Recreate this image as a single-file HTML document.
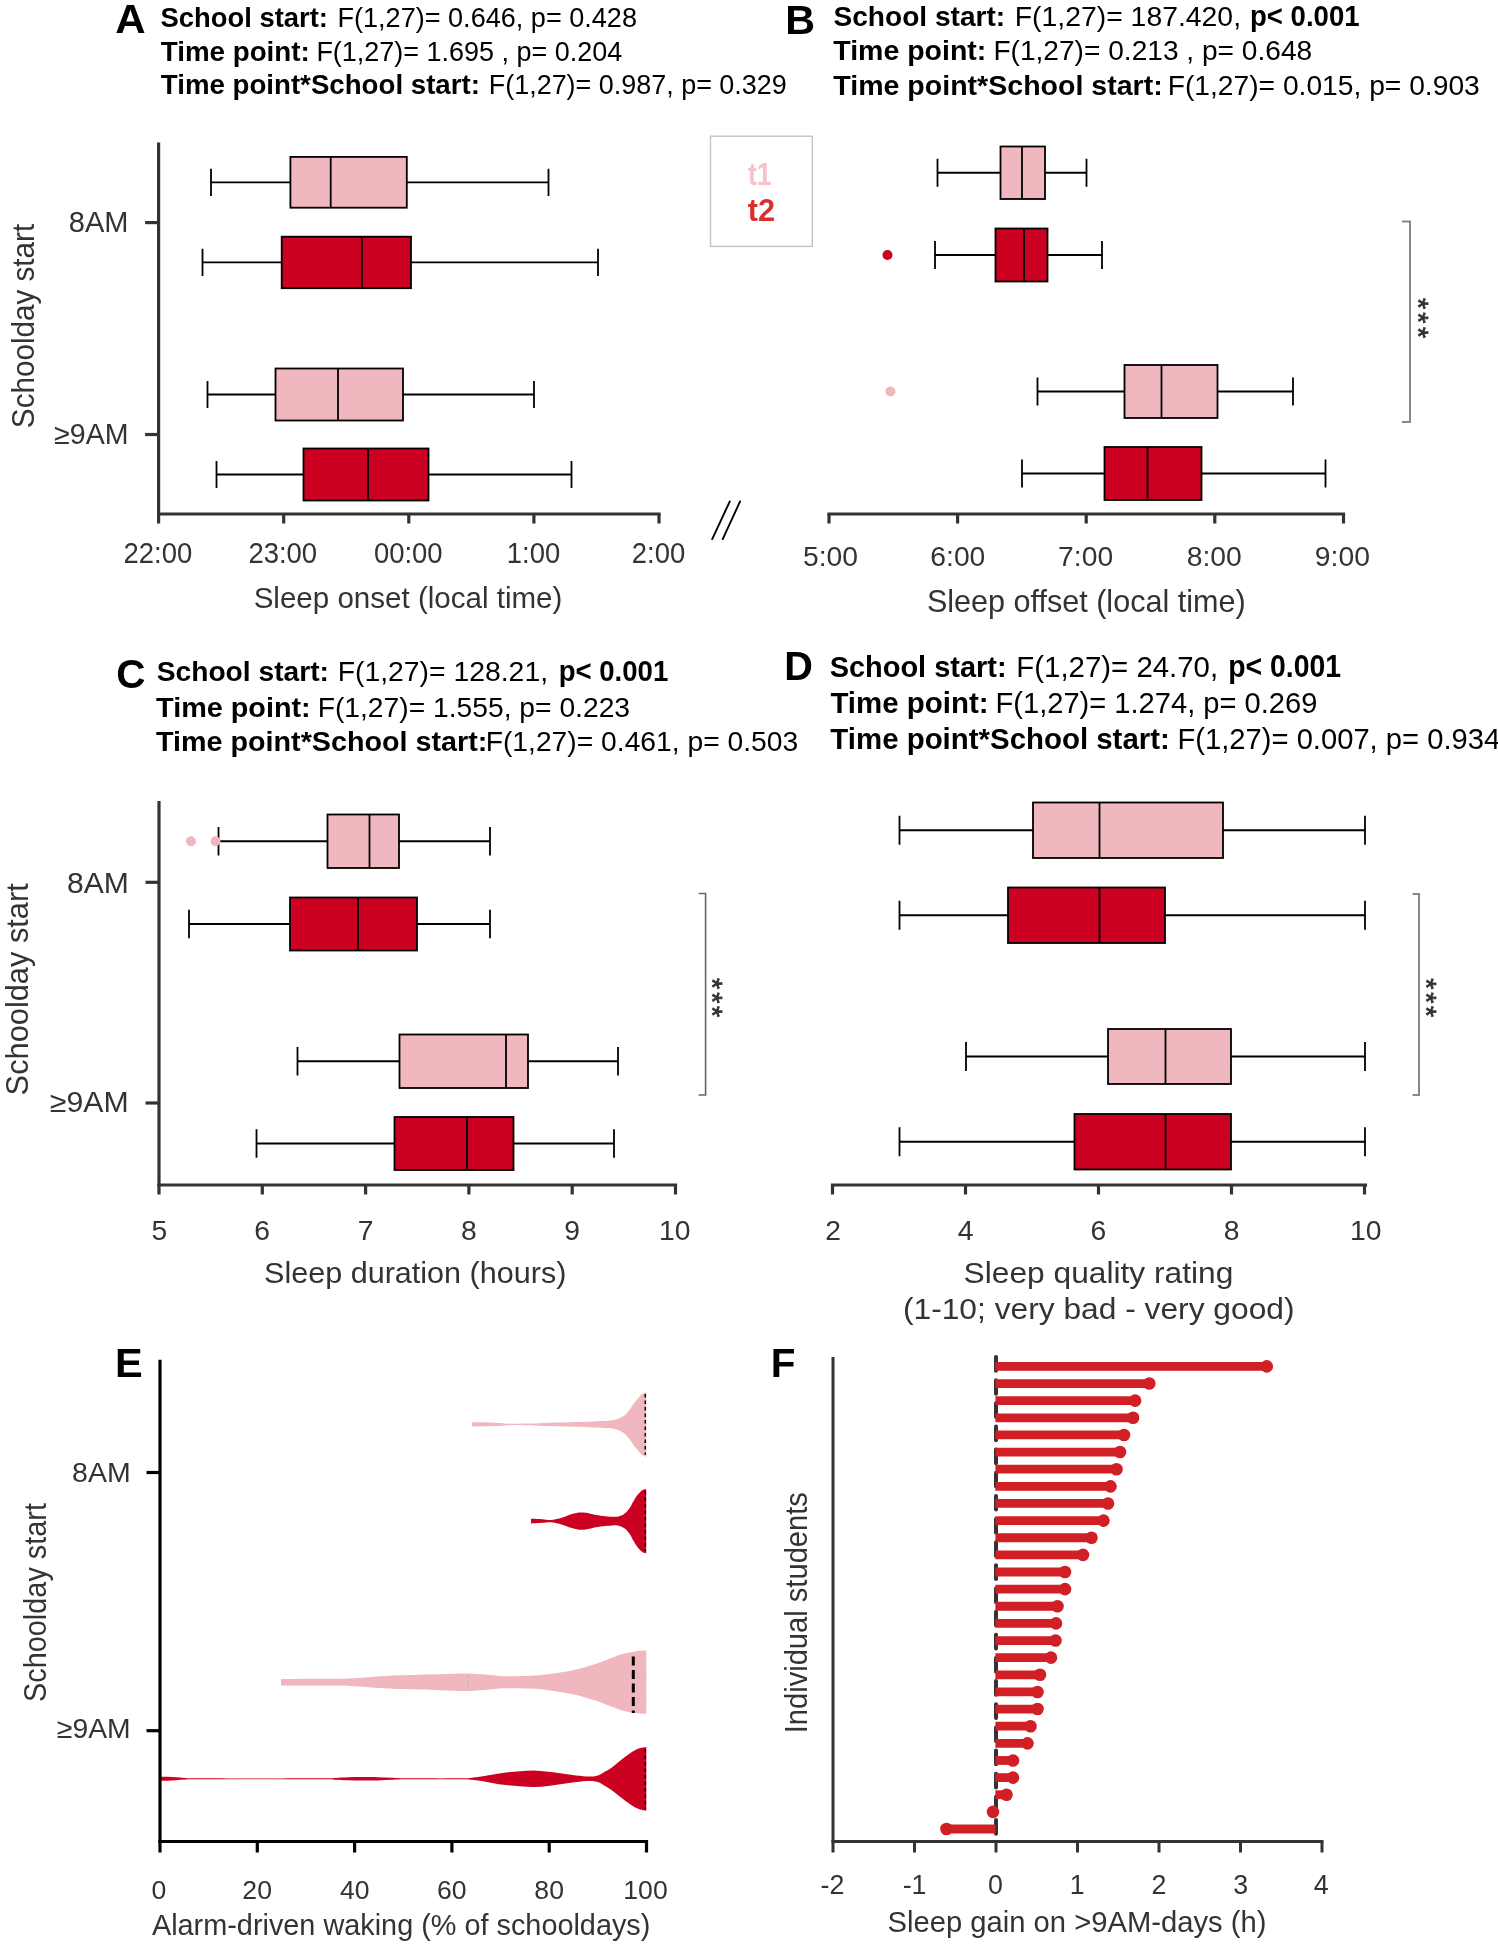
<!DOCTYPE html><html><head><meta charset="utf-8"><style>
html,body{margin:0;padding:0;background:#fff;}
svg{display:block;}
text{font-family:"Liberation Sans", sans-serif;}
.bx{stroke:#000;stroke-width:1.8;}
</style></head><body>
<svg style="will-change:transform" width="1498" height="1945" viewBox="0 0 1498 1945">
<text x="115.25" y="33.40" font-size="41" font-weight="bold" fill="#000" textLength="30.35" lengthAdjust="spacingAndGlyphs" xml:space="preserve">A</text>
<text x="160.51" y="26.50" font-size="27.5" font-weight="bold" fill="#000" textLength="167.42" lengthAdjust="spacingAndGlyphs" xml:space="preserve">School start:</text>
<text x="337.48" y="26.50" font-size="27.5" font-weight="normal" fill="#000" textLength="299.50" lengthAdjust="spacingAndGlyphs" xml:space="preserve">F(1,27)= 0.646, p= 0.428</text>
<text x="160.79" y="60.50" font-size="27.5" font-weight="bold" fill="#000" textLength="148.97" lengthAdjust="spacingAndGlyphs" xml:space="preserve">Time point:</text>
<text x="316.39" y="60.50" font-size="27.5" font-weight="normal" fill="#000" textLength="305.90" lengthAdjust="spacingAndGlyphs" xml:space="preserve">F(1,27)= 1.695 , p= 0.204</text>
<text x="160.80" y="94.00" font-size="27.5" font-weight="bold" fill="#000" textLength="319.16" lengthAdjust="spacingAndGlyphs" xml:space="preserve">Time point*School start:</text>
<text x="488.79" y="94.00" font-size="27.5" font-weight="normal" fill="#000" textLength="297.99" lengthAdjust="spacingAndGlyphs" xml:space="preserve">F(1,27)= 0.987, p= 0.329</text>
<line x1="158.6" y1="142.5" x2="158.6" y2="515.5" stroke="#333333" stroke-width="3.2"/>
<line x1="145.1" y1="222.6" x2="158.6" y2="222.6" stroke="#333333" stroke-width="3.2"/>
<line x1="145.1" y1="434.5" x2="158.6" y2="434.5" stroke="#333333" stroke-width="3.2"/>
<line x1="157.0" y1="514" x2="660.6" y2="514" stroke="#333333" stroke-width="3.2"/>
<line x1="158.6" y1="514" x2="158.6" y2="523.5" stroke="#333333" stroke-width="3.2"/>
<line x1="283.7" y1="514" x2="283.7" y2="523.5" stroke="#333333" stroke-width="3.2"/>
<line x1="408.8" y1="514" x2="408.8" y2="523.5" stroke="#333333" stroke-width="3.2"/>
<line x1="533.9" y1="514" x2="533.9" y2="523.5" stroke="#333333" stroke-width="3.2"/>
<line x1="659" y1="514" x2="659" y2="523.5" stroke="#333333" stroke-width="3.2"/>
<text x="68.75" y="231.80" font-size="28.6" font-weight="normal" fill="#333333" textLength="59.74" lengthAdjust="spacingAndGlyphs" xml:space="preserve">8AM</text>
<text x="54.09" y="443.50" font-size="28.6" font-weight="normal" fill="#333333" textLength="74.46" lengthAdjust="spacingAndGlyphs" xml:space="preserve">≥9AM</text>
<text x="123.53" y="563.00" font-size="29" font-weight="normal" fill="#333333" textLength="68.65" lengthAdjust="spacingAndGlyphs" xml:space="preserve">22:00</text>
<text x="248.43" y="563.00" font-size="29" font-weight="normal" fill="#333333" textLength="68.65" lengthAdjust="spacingAndGlyphs" xml:space="preserve">23:00</text>
<text x="373.88" y="563.00" font-size="29" font-weight="normal" fill="#333333" textLength="68.65" lengthAdjust="spacingAndGlyphs" xml:space="preserve">00:00</text>
<text x="506.80" y="563.00" font-size="29" font-weight="normal" fill="#333333" textLength="53.39" lengthAdjust="spacingAndGlyphs" xml:space="preserve">1:00</text>
<text x="631.86" y="563.00" font-size="29" font-weight="normal" fill="#333333" textLength="53.39" lengthAdjust="spacingAndGlyphs" xml:space="preserve">2:00</text>
<text x="253.67" y="607.50" font-size="29.1" font-weight="normal" fill="#333333" textLength="308.67" lengthAdjust="spacingAndGlyphs" xml:space="preserve">Sleep onset (local time)</text>
<text transform="translate(34.00,428.13) rotate(-90)" x="0" y="0" font-size="30.5" fill="#333333" textLength="204.33" lengthAdjust="spacingAndGlyphs">Schoolday start</text>
<path d="M211,182.3 H290.4 M406.8,182.3 H548.5 M211,168.70000000000002 V195.9 M548.5,168.70000000000002 V195.9" class="bx" fill="none"/>
<rect x="290.4" y="156.9" width="116.40" height="50.80" fill="#f0b7be" class="bx"/>
<line x1="330.7" y1="156.9" x2="330.7" y2="207.7" class="bx"/>
<path d="M202.5,262.45 H281.7 M411,262.45 H598 M202.5,248.85 V276.05 M598,248.85 V276.05" class="bx" fill="none"/>
<rect x="281.7" y="236.7" width="129.30" height="51.50" fill="#cc0020" class="bx"/>
<line x1="361.8" y1="236.7" x2="361.8" y2="288.2" class="bx"/>
<path d="M207.5,394.5 H275.5 M403,394.5 H534 M207.5,380.9 V408.1 M534,380.9 V408.1" class="bx" fill="none"/>
<rect x="275.5" y="368.5" width="127.50" height="52.00" fill="#f0b7be" class="bx"/>
<line x1="338" y1="368.5" x2="338" y2="420.5" class="bx"/>
<path d="M216.5,474.5 H303.5 M428.5,474.5 H571.5 M216.5,460.9 V488.1 M571.5,460.9 V488.1" class="bx" fill="none"/>
<rect x="303.5" y="448.5" width="125.00" height="52.00" fill="#cc0020" class="bx"/>
<line x1="368" y1="448.5" x2="368" y2="500.5" class="bx"/>
<rect x="710.5" y="136.2" width="101.8" height="110.2" fill="none" stroke="#c4c4c4" stroke-width="1.4"/>
<text x="747.88" y="184.90" font-size="31.4" font-weight="bold" fill="#f5c4ca" textLength="23.77" lengthAdjust="spacingAndGlyphs" xml:space="preserve">t1</text>
<text x="747.83" y="220.90" font-size="31.4" font-weight="bold" fill="#d93030" textLength="27.30" lengthAdjust="spacingAndGlyphs" xml:space="preserve">t2</text>
<path d="M712.2,539.1 L729.8,501.4 M722.7,539.1 L740.1,501.4" stroke="#000" stroke-width="1.9" stroke-linecap="round"/>
<text x="785.33" y="33.90" font-size="41" font-weight="bold" fill="#000" textLength="29.83" lengthAdjust="spacingAndGlyphs" xml:space="preserve">B</text>
<text x="833.49" y="26.30" font-size="28.3" font-weight="bold" fill="#000" textLength="171.71" lengthAdjust="spacingAndGlyphs" xml:space="preserve">School start:</text>
<text x="1014.77" y="26.30" font-size="28.3" font-weight="normal" fill="#000" textLength="226.27" lengthAdjust="spacingAndGlyphs" xml:space="preserve">F(1,27)= 187.420,</text>
<text x="1249.98" y="26.30" font-size="29.4" font-weight="bold" fill="#000" textLength="109.59" lengthAdjust="spacingAndGlyphs" xml:space="preserve">p&lt; 0.001</text>
<text x="833.29" y="60.00" font-size="28.3" font-weight="bold" fill="#000" textLength="153.05" lengthAdjust="spacingAndGlyphs" xml:space="preserve">Time point:</text>
<text x="993.39" y="60.00" font-size="28.3" font-weight="normal" fill="#000" textLength="318.82" lengthAdjust="spacingAndGlyphs" xml:space="preserve">F(1,27)= 0.213 , p= 0.648</text>
<text x="833.29" y="94.60" font-size="28.3" font-weight="bold" fill="#000" textLength="329.46" lengthAdjust="spacingAndGlyphs" xml:space="preserve">Time point*School start:</text>
<text x="1167.69" y="94.60" font-size="28.3" font-weight="normal" fill="#000" textLength="312.07" lengthAdjust="spacingAndGlyphs" xml:space="preserve">F(1,27)= 0.015, p= 0.903</text>
<line x1="827.4" y1="514" x2="1345.1" y2="514" stroke="#333333" stroke-width="3.2"/>
<line x1="829" y1="514" x2="829" y2="523.5" stroke="#333333" stroke-width="3.2"/>
<line x1="957.6" y1="514" x2="957.6" y2="523.5" stroke="#333333" stroke-width="3.2"/>
<line x1="1086.2" y1="514" x2="1086.2" y2="523.5" stroke="#333333" stroke-width="3.2"/>
<line x1="1214.8" y1="514" x2="1214.8" y2="523.5" stroke="#333333" stroke-width="3.2"/>
<line x1="1343.5" y1="514" x2="1343.5" y2="523.5" stroke="#333333" stroke-width="3.2"/>
<text x="802.95" y="565.70" font-size="28.3" font-weight="normal" fill="#333333" textLength="55.08" lengthAdjust="spacingAndGlyphs" xml:space="preserve">5:00</text>
<text x="930.29" y="565.70" font-size="28.3" font-weight="normal" fill="#333333" textLength="55.08" lengthAdjust="spacingAndGlyphs" xml:space="preserve">6:00</text>
<text x="1058.09" y="565.70" font-size="28.3" font-weight="normal" fill="#333333" textLength="55.08" lengthAdjust="spacingAndGlyphs" xml:space="preserve">7:00</text>
<text x="1186.71" y="565.70" font-size="28.3" font-weight="normal" fill="#333333" textLength="55.08" lengthAdjust="spacingAndGlyphs" xml:space="preserve">8:00</text>
<text x="1314.85" y="565.70" font-size="28.3" font-weight="normal" fill="#333333" textLength="55.08" lengthAdjust="spacingAndGlyphs" xml:space="preserve">9:00</text>
<text x="926.93" y="611.90" font-size="31.3" font-weight="normal" fill="#333333" textLength="318.66" lengthAdjust="spacingAndGlyphs" xml:space="preserve">Sleep offset (local time)</text>
<path d="M937.5,172.75 H1000.5 M1045,172.75 H1086.5 M937.5,158.75 V186.75 M1086.5,158.75 V186.75" class="bx" fill="none"/>
<rect x="1000.5" y="146.5" width="44.50" height="52.50" fill="#f0b7be" class="bx"/>
<line x1="1022" y1="146.5" x2="1022" y2="199" class="bx"/>
<path d="M935,255.0 H995.5 M1047.5,255.0 H1102 M935,241.0 V269.0 M1102,241.0 V269.0" class="bx" fill="none"/>
<rect x="995.5" y="228.5" width="52.00" height="53.00" fill="#cc0020" class="bx"/>
<line x1="1024" y1="228.5" x2="1024" y2="281.5" class="bx"/>
<path d="M1037.5,391.5 H1124.5 M1217.5,391.5 H1293 M1037.5,377.5 V405.5 M1293,377.5 V405.5" class="bx" fill="none"/>
<rect x="1124.5" y="365" width="93.00" height="53.00" fill="#f0b7be" class="bx"/>
<line x1="1161.5" y1="365" x2="1161.5" y2="418" class="bx"/>
<path d="M1022,473.5 H1104.5 M1201.5,473.5 H1325.5 M1022,459.5 V487.5 M1325.5,459.5 V487.5" class="bx" fill="none"/>
<rect x="1104.5" y="447" width="97.00" height="53.00" fill="#cc0020" class="bx"/>
<line x1="1147.5" y1="447" x2="1147.5" y2="500" class="bx"/>
<circle cx="887.5" cy="255" r="5" fill="#cc0020"/>
<circle cx="890.5" cy="391.5" r="5" fill="#f0b7be"/>
<path d="M1402,221.6 H1410 V422 H1402" fill="none" stroke="#888" stroke-width="2"/>
<text transform="translate(1424,303.5) rotate(90)" x="-5.54" y="14.61" font-size="28.5" fill="#333" stroke="#333" stroke-width="0.75">*</text>
<text transform="translate(1424,317.7) rotate(90)" x="-5.54" y="14.61" font-size="28.5" fill="#333" stroke="#333" stroke-width="0.75">*</text>
<text transform="translate(1424,332.5) rotate(90)" x="-5.54" y="14.61" font-size="28.5" fill="#333" stroke="#333" stroke-width="0.75">*</text>
<text x="116.34" y="687.50" font-size="41" font-weight="bold" fill="#000" textLength="29.26" lengthAdjust="spacingAndGlyphs" xml:space="preserve">C</text>
<text x="156.68" y="681.30" font-size="28.3" font-weight="bold" fill="#000" textLength="172.32" lengthAdjust="spacingAndGlyphs" xml:space="preserve">School start:</text>
<text x="337.68" y="681.30" font-size="28.3" font-weight="normal" fill="#000" textLength="210.36" lengthAdjust="spacingAndGlyphs" xml:space="preserve">F(1,27)= 128.21,</text>
<text x="558.68" y="681.40" font-size="30" font-weight="bold" fill="#000" textLength="109.59" lengthAdjust="spacingAndGlyphs" xml:space="preserve">p&lt; 0.001</text>
<text x="156.08" y="717.10" font-size="28.3" font-weight="bold" fill="#000" textLength="154.58" lengthAdjust="spacingAndGlyphs" xml:space="preserve">Time point:</text>
<text x="317.68" y="717.10" font-size="28.3" font-weight="normal" fill="#000" textLength="312.37" lengthAdjust="spacingAndGlyphs" xml:space="preserve">F(1,27)= 1.555, p= 0.223</text>
<text x="156.08" y="751.40" font-size="28.3" font-weight="bold" fill="#000" textLength="331.18" lengthAdjust="spacingAndGlyphs" xml:space="preserve">Time point*School start:</text>
<text x="485.68" y="751.40" font-size="28.3" font-weight="normal" fill="#000" textLength="312.57" lengthAdjust="spacingAndGlyphs" xml:space="preserve">F(1,27)= 0.461, p= 0.503</text>
<line x1="159" y1="801" x2="159" y2="1186" stroke="#333333" stroke-width="3.2"/>
<line x1="145.5" y1="882.3" x2="159" y2="882.3" stroke="#333333" stroke-width="3.2"/>
<line x1="145.5" y1="1103" x2="159" y2="1103" stroke="#333333" stroke-width="3.2"/>
<line x1="157.4" y1="1185" x2="677.1" y2="1185" stroke="#333333" stroke-width="3.2"/>
<line x1="159" y1="1185" x2="159" y2="1194.5" stroke="#333333" stroke-width="3.2"/>
<line x1="262.3" y1="1185" x2="262.3" y2="1194.5" stroke="#333333" stroke-width="3.2"/>
<line x1="365.6" y1="1185" x2="365.6" y2="1194.5" stroke="#333333" stroke-width="3.2"/>
<line x1="468.9" y1="1185" x2="468.9" y2="1194.5" stroke="#333333" stroke-width="3.2"/>
<line x1="572.2" y1="1185" x2="572.2" y2="1194.5" stroke="#333333" stroke-width="3.2"/>
<line x1="675.5" y1="1185" x2="675.5" y2="1194.5" stroke="#333333" stroke-width="3.2"/>
<text x="66.91" y="892.80" font-size="28.6" font-weight="normal" fill="#333333" textLength="61.87" lengthAdjust="spacingAndGlyphs" xml:space="preserve">8AM</text>
<text x="49.83" y="1112.00" font-size="28.6" font-weight="normal" fill="#333333" textLength="78.96" lengthAdjust="spacingAndGlyphs" xml:space="preserve">≥9AM</text>
<text x="151.56" y="1240.20" font-size="28.3" font-weight="normal" fill="#333333" textLength="15.74" lengthAdjust="spacingAndGlyphs" xml:space="preserve">5</text>
<text x="254.33" y="1240.20" font-size="28.3" font-weight="normal" fill="#333333" textLength="15.74" lengthAdjust="spacingAndGlyphs" xml:space="preserve">6</text>
<text x="357.72" y="1240.20" font-size="28.3" font-weight="normal" fill="#333333" textLength="15.74" lengthAdjust="spacingAndGlyphs" xml:space="preserve">7</text>
<text x="461.03" y="1240.20" font-size="28.3" font-weight="normal" fill="#333333" textLength="15.74" lengthAdjust="spacingAndGlyphs" xml:space="preserve">8</text>
<text x="564.33" y="1240.20" font-size="28.3" font-weight="normal" fill="#333333" textLength="15.74" lengthAdjust="spacingAndGlyphs" xml:space="preserve">9</text>
<text x="659.04" y="1240.20" font-size="28.3" font-weight="normal" fill="#333333" textLength="31.48" lengthAdjust="spacingAndGlyphs" xml:space="preserve">10</text>
<text x="264.02" y="1283.10" font-size="30.4" font-weight="normal" fill="#333333" textLength="302.36" lengthAdjust="spacingAndGlyphs" xml:space="preserve">Sleep duration (hours)</text>
<text transform="translate(27.80,1095.39) rotate(-90)" x="0" y="0" font-size="31" fill="#333333" textLength="212.19" lengthAdjust="spacingAndGlyphs">Schoolday start</text>
<path d="M218.5,841.25 H327.5 M399,841.25 H490 M218.5,827.05 V855.45 M490,827.05 V855.45" class="bx" fill="none"/>
<rect x="327.5" y="814.5" width="71.50" height="53.50" fill="#f0b7be" class="bx"/>
<line x1="369.5" y1="814.5" x2="369.5" y2="868" class="bx"/>
<path d="M189,924.0 H290 M417,924.0 H490 M189,909.8 V938.2 M490,909.8 V938.2" class="bx" fill="none"/>
<rect x="290" y="897.5" width="127.00" height="53.00" fill="#cc0020" class="bx"/>
<line x1="358" y1="897.5" x2="358" y2="950.5" class="bx"/>
<path d="M297.5,1061.25 H399.5 M528,1061.25 H618 M297.5,1047.05 V1075.45 M618,1047.05 V1075.45" class="bx" fill="none"/>
<rect x="399.5" y="1034.5" width="128.50" height="53.50" fill="#f0b7be" class="bx"/>
<line x1="506" y1="1034.5" x2="506" y2="1088" class="bx"/>
<path d="M256.5,1143.5 H394.5 M513.5,1143.5 H614 M256.5,1129.3 V1157.7 M614,1129.3 V1157.7" class="bx" fill="none"/>
<rect x="394.5" y="1117" width="119.00" height="53.00" fill="#cc0020" class="bx"/>
<line x1="467" y1="1117" x2="467" y2="1170" class="bx"/>
<circle cx="191" cy="841.3" r="5" fill="#f0b7be"/>
<circle cx="215.5" cy="841.3" r="5" fill="#f0b7be"/>
<path d="M698.6,893.5 H705.6 V1095 H698.6" fill="none" stroke="#666" stroke-width="1.6"/>
<text transform="translate(718,983.5) rotate(90)" x="-5.54" y="14.61" font-size="28.5" fill="#333" stroke="#333" stroke-width="0.75">*</text>
<text transform="translate(718,997.7) rotate(90)" x="-5.54" y="14.61" font-size="28.5" fill="#333" stroke="#333" stroke-width="0.75">*</text>
<text transform="translate(718,1011.5) rotate(90)" x="-5.54" y="14.61" font-size="28.5" fill="#333" stroke="#333" stroke-width="0.75">*</text>
<text x="784.34" y="680.00" font-size="41" font-weight="bold" fill="#000" textLength="28.63" lengthAdjust="spacingAndGlyphs" xml:space="preserve">D</text>
<text x="829.66" y="677.00" font-size="29.2" font-weight="bold" fill="#000" textLength="176.91" lengthAdjust="spacingAndGlyphs" xml:space="preserve">School start:</text>
<text x="1016.39" y="677.00" font-size="29.2" font-weight="normal" fill="#000" textLength="201.76" lengthAdjust="spacingAndGlyphs" xml:space="preserve">F(1,27)= 24.70,</text>
<text x="1228.23" y="677.00" font-size="31.2" font-weight="bold" fill="#000" textLength="112.87" lengthAdjust="spacingAndGlyphs" xml:space="preserve">p&lt; 0.001</text>
<text x="830.38" y="712.90" font-size="29.2" font-weight="bold" fill="#000" textLength="158.16" lengthAdjust="spacingAndGlyphs" xml:space="preserve">Time point:</text>
<text x="995.51" y="712.90" font-size="29.2" font-weight="normal" fill="#000" textLength="321.87" lengthAdjust="spacingAndGlyphs" xml:space="preserve">F(1,27)= 1.274, p= 0.269</text>
<text x="830.38" y="748.80" font-size="29.2" font-weight="bold" fill="#000" textLength="339.45" lengthAdjust="spacingAndGlyphs" xml:space="preserve">Time point*School start:</text>
<text x="1177.51" y="748.80" font-size="29.2" font-weight="normal" fill="#000" textLength="322.65" lengthAdjust="spacingAndGlyphs" xml:space="preserve">F(1,27)= 0.007, p= 0.934</text>
<line x1="830.9" y1="1185" x2="1367.1" y2="1185" stroke="#333333" stroke-width="3.2"/>
<line x1="832.5" y1="1185" x2="832.5" y2="1194.5" stroke="#333333" stroke-width="3.2"/>
<line x1="965.5" y1="1185" x2="965.5" y2="1194.5" stroke="#333333" stroke-width="3.2"/>
<line x1="1098.5" y1="1185" x2="1098.5" y2="1194.5" stroke="#333333" stroke-width="3.2"/>
<line x1="1231.5" y1="1185" x2="1231.5" y2="1194.5" stroke="#333333" stroke-width="3.2"/>
<line x1="1364.5" y1="1185" x2="1364.5" y2="1194.5" stroke="#333333" stroke-width="3.2"/>
<text x="825.13" y="1240.20" font-size="28.3" font-weight="normal" fill="#333333" textLength="15.74" lengthAdjust="spacingAndGlyphs" xml:space="preserve">2</text>
<text x="957.72" y="1240.20" font-size="28.3" font-weight="normal" fill="#333333" textLength="15.74" lengthAdjust="spacingAndGlyphs" xml:space="preserve">4</text>
<text x="1090.53" y="1240.20" font-size="28.3" font-weight="normal" fill="#333333" textLength="15.74" lengthAdjust="spacingAndGlyphs" xml:space="preserve">6</text>
<text x="1223.63" y="1240.20" font-size="28.3" font-weight="normal" fill="#333333" textLength="15.74" lengthAdjust="spacingAndGlyphs" xml:space="preserve">8</text>
<text x="1350.04" y="1240.20" font-size="28.3" font-weight="normal" fill="#333333" textLength="31.48" lengthAdjust="spacingAndGlyphs" xml:space="preserve">10</text>
<text x="963.57" y="1283.00" font-size="30.4" font-weight="normal" fill="#333333" textLength="269.77" lengthAdjust="spacingAndGlyphs" xml:space="preserve">Sleep quality rating</text>
<text x="902.93" y="1319.10" font-size="30.4" font-weight="normal" fill="#333333" textLength="391.63" lengthAdjust="spacingAndGlyphs" xml:space="preserve">(1-10; very bad - very good)</text>
<path d="M899.5,830.25 H1033 M1223,830.25 H1365 M899.5,815.75 V844.75 M1365,815.75 V844.75" class="bx" fill="none"/>
<rect x="1033" y="802.5" width="190.00" height="55.50" fill="#f0b7be" class="bx"/>
<line x1="1099.5" y1="802.5" x2="1099.5" y2="858" class="bx"/>
<path d="M899.5,915.25 H1008 M1165,915.25 H1365 M899.5,900.75 V929.75 M1365,900.75 V929.75" class="bx" fill="none"/>
<rect x="1008" y="887.5" width="157.00" height="55.50" fill="#cc0020" class="bx"/>
<line x1="1099.5" y1="887.5" x2="1099.5" y2="943" class="bx"/>
<path d="M966,1056.5 H1108 M1231,1056.5 H1365 M966,1042.0 V1071.0 M1365,1042.0 V1071.0" class="bx" fill="none"/>
<rect x="1108" y="1029" width="123.00" height="55.00" fill="#f0b7be" class="bx"/>
<line x1="1165.5" y1="1029" x2="1165.5" y2="1084" class="bx"/>
<path d="M899.5,1141.75 H1074.5 M1231,1141.75 H1365 M899.5,1127.25 V1156.25 M1365,1127.25 V1156.25" class="bx" fill="none"/>
<rect x="1074.5" y="1114" width="156.50" height="55.50" fill="#cc0020" class="bx"/>
<line x1="1165.5" y1="1114" x2="1165.5" y2="1169.5" class="bx"/>
<path d="M1412.5,894 H1419 V1095 H1412.5" fill="none" stroke="#888" stroke-width="2"/>
<text transform="translate(1431.7,983.7) rotate(90)" x="-5.54" y="14.61" font-size="28.5" fill="#333" stroke="#333" stroke-width="0.75">*</text>
<text transform="translate(1431.7,997.8) rotate(90)" x="-5.54" y="14.61" font-size="28.5" fill="#333" stroke="#333" stroke-width="0.75">*</text>
<text transform="translate(1431.7,1011.5) rotate(90)" x="-5.54" y="14.61" font-size="28.5" fill="#333" stroke="#333" stroke-width="0.75">*</text>
<text x="115.02" y="1376.90" font-size="41" font-weight="bold" fill="#000" textLength="27.70" lengthAdjust="spacingAndGlyphs" xml:space="preserve">E</text>
<path d="M472.00,1422.40 C473.33,1422.38 476.17,1422.25 480.00,1422.30 C483.83,1422.35 490.83,1422.52 495.00,1422.70 C499.17,1422.88 502.00,1423.22 505.00,1423.40 C508.00,1423.58 509.67,1423.77 513.00,1423.80 C516.33,1423.83 519.67,1423.75 525.00,1423.60 C530.33,1423.45 537.50,1423.13 545.00,1422.90 C552.50,1422.67 562.00,1422.45 570.00,1422.20 C578.00,1421.95 586.67,1421.63 593.00,1421.40 C599.33,1421.17 604.33,1421.07 608.00,1420.80 C611.67,1420.53 613.00,1420.28 615.00,1419.80 C617.00,1419.32 618.33,1418.72 620.00,1417.90 C621.67,1417.08 623.50,1416.15 625.00,1414.90 C626.50,1413.65 627.57,1412.23 629.00,1410.40 C630.43,1408.57 632.27,1405.73 633.60,1403.90 C634.93,1402.07 635.93,1400.73 637.00,1399.40 C638.07,1398.07 639.00,1396.90 640.00,1395.90 C641.00,1394.90 641.97,1394.05 643.00,1393.40 C644.03,1392.75 645.67,1392.23 646.20,1392.00 L646.20,1456.80 C645.67,1456.57 644.03,1456.05 643.00,1455.40 C641.97,1454.75 641.00,1453.90 640.00,1452.90 C639.00,1451.90 638.07,1450.73 637.00,1449.40 C635.93,1448.07 634.93,1446.73 633.60,1444.90 C632.27,1443.07 630.43,1440.23 629.00,1438.40 C627.57,1436.57 626.50,1435.15 625.00,1433.90 C623.50,1432.65 621.67,1431.72 620.00,1430.90 C618.33,1430.08 617.00,1429.48 615.00,1429.00 C613.00,1428.52 611.67,1428.27 608.00,1428.00 C604.33,1427.73 599.33,1427.63 593.00,1427.40 C586.67,1427.17 578.00,1426.85 570.00,1426.60 C562.00,1426.35 552.50,1426.13 545.00,1425.90 C537.50,1425.67 530.33,1425.35 525.00,1425.20 C519.67,1425.05 516.33,1424.97 513.00,1425.00 C509.67,1425.03 508.00,1425.22 505.00,1425.40 C502.00,1425.58 499.17,1425.92 495.00,1426.10 C490.83,1426.28 483.83,1426.45 480.00,1426.50 C476.17,1426.55 473.33,1426.42 472.00,1426.40 Z" fill="#f0b7be"/>
<path d="M531.00,1518.80 C532.50,1518.85 537.17,1518.92 540.00,1519.10 C542.83,1519.28 545.83,1519.78 548.00,1519.90 C550.17,1520.02 551.00,1520.07 553.00,1519.80 C555.00,1519.53 557.83,1518.88 560.00,1518.30 C562.17,1517.72 564.00,1517.00 566.00,1516.30 C568.00,1515.60 569.83,1514.73 572.00,1514.10 C574.17,1513.47 576.67,1512.72 579.00,1512.50 C581.33,1512.28 583.58,1512.48 586.00,1512.80 C588.42,1513.12 590.67,1513.88 593.50,1514.40 C596.33,1514.92 599.92,1515.52 603.00,1515.90 C606.08,1516.28 609.58,1516.57 612.00,1516.70 C614.42,1516.83 615.83,1516.93 617.50,1516.70 C619.17,1516.47 620.58,1515.98 622.00,1515.30 C623.42,1514.62 624.67,1513.88 626.00,1512.60 C627.33,1511.32 628.73,1509.52 630.00,1507.60 C631.27,1505.68 632.43,1503.10 633.60,1501.10 C634.77,1499.10 635.90,1497.13 637.00,1495.60 C638.10,1494.07 639.20,1492.87 640.20,1491.90 C641.20,1490.93 642.00,1490.30 643.00,1489.80 C644.00,1489.30 645.67,1489.05 646.20,1488.90 L646.20,1553.30 C645.67,1553.15 644.00,1552.90 643.00,1552.40 C642.00,1551.90 641.20,1551.27 640.20,1550.30 C639.20,1549.33 638.10,1548.13 637.00,1546.60 C635.90,1545.07 634.77,1543.10 633.60,1541.10 C632.43,1539.10 631.27,1536.52 630.00,1534.60 C628.73,1532.68 627.33,1530.88 626.00,1529.60 C624.67,1528.32 623.42,1527.58 622.00,1526.90 C620.58,1526.22 619.17,1525.73 617.50,1525.50 C615.83,1525.27 614.42,1525.37 612.00,1525.50 C609.58,1525.63 606.08,1525.92 603.00,1526.30 C599.92,1526.68 596.33,1527.28 593.50,1527.80 C590.67,1528.32 588.42,1529.08 586.00,1529.40 C583.58,1529.72 581.33,1529.92 579.00,1529.70 C576.67,1529.48 574.17,1528.73 572.00,1528.10 C569.83,1527.47 568.00,1526.60 566.00,1525.90 C564.00,1525.20 562.17,1524.48 560.00,1523.90 C557.83,1523.32 555.00,1522.67 553.00,1522.40 C551.00,1522.13 550.17,1522.18 548.00,1522.30 C545.83,1522.42 542.83,1522.92 540.00,1523.10 C537.17,1523.28 532.50,1523.35 531.00,1523.40 Z" fill="#cc0020"/>
<path d="M281.00,1678.90 C284.17,1678.90 291.83,1678.92 300.00,1678.90 C308.17,1678.88 321.67,1678.88 330.00,1678.80 C338.33,1678.72 342.50,1678.75 350.00,1678.40 C357.50,1678.05 366.67,1677.22 375.00,1676.70 C383.33,1676.18 389.17,1675.72 400.00,1675.30 C410.83,1674.88 428.67,1674.50 440.00,1674.20 C451.33,1673.90 459.67,1673.37 468.00,1673.50 C476.33,1673.63 483.83,1674.55 490.00,1675.00 C496.17,1675.45 498.33,1676.07 505.00,1676.20 C511.67,1676.33 522.50,1676.17 530.00,1675.80 C537.50,1675.43 543.43,1674.82 550.00,1674.00 C556.57,1673.18 564.07,1671.90 569.40,1670.90 C574.73,1669.90 577.67,1669.15 582.00,1668.00 C586.33,1666.85 591.07,1665.47 595.40,1664.00 C599.73,1662.53 603.65,1660.83 608.00,1659.20 C612.35,1657.57 617.08,1655.50 621.50,1654.20 C625.92,1652.90 630.38,1652.00 634.50,1651.40 C638.62,1650.80 644.25,1650.73 646.20,1650.60 L646.20,1713.80 C644.25,1713.67 638.62,1713.60 634.50,1713.00 C630.38,1712.40 625.92,1711.50 621.50,1710.20 C617.08,1708.90 612.35,1706.83 608.00,1705.20 C603.65,1703.57 599.73,1701.87 595.40,1700.40 C591.07,1698.93 586.33,1697.55 582.00,1696.40 C577.67,1695.25 574.73,1694.50 569.40,1693.50 C564.07,1692.50 556.57,1691.22 550.00,1690.40 C543.43,1689.58 537.50,1688.97 530.00,1688.60 C522.50,1688.23 511.67,1688.07 505.00,1688.20 C498.33,1688.33 496.17,1688.95 490.00,1689.40 C483.83,1689.85 476.33,1690.77 468.00,1690.90 C459.67,1691.03 451.33,1690.50 440.00,1690.20 C428.67,1689.90 410.83,1689.52 400.00,1689.10 C389.17,1688.68 383.33,1688.22 375.00,1687.70 C366.67,1687.18 357.50,1686.35 350.00,1686.00 C342.50,1685.65 338.33,1685.68 330.00,1685.60 C321.67,1685.52 308.17,1685.52 300.00,1685.50 C291.83,1685.48 284.17,1685.50 281.00,1685.50 Z" fill="#f0b7be"/>
<path d="M160.00,1776.80 C161.33,1776.80 165.33,1776.72 168.00,1776.80 C170.67,1776.88 173.17,1777.10 176.00,1777.30 C178.83,1777.50 181.83,1777.83 185.00,1778.00 C188.17,1778.17 184.17,1778.28 195.00,1778.35 C205.83,1778.42 229.17,1778.40 250.00,1778.40 C270.83,1778.40 305.83,1778.43 320.00,1778.35 C334.17,1778.27 330.33,1778.07 335.00,1777.90 C339.67,1777.72 343.50,1777.45 348.00,1777.30 C352.50,1777.15 357.00,1777.02 362.00,1777.00 C367.00,1776.98 373.00,1777.07 378.00,1777.20 C383.00,1777.33 387.50,1777.62 392.00,1777.80 C396.50,1777.98 397.00,1778.20 405.00,1778.30 C413.00,1778.40 430.50,1778.40 440.00,1778.40 C449.50,1778.40 457.00,1778.38 462.00,1778.30 C467.00,1778.22 467.33,1778.12 470.00,1777.90 C472.67,1777.68 474.33,1777.53 478.00,1777.00 C481.67,1776.47 487.33,1775.45 492.00,1774.70 C496.67,1773.95 501.33,1773.07 506.00,1772.50 C510.67,1771.93 515.33,1771.63 520.00,1771.30 C524.67,1770.97 529.33,1770.43 534.00,1770.50 C538.67,1770.57 543.33,1771.20 548.00,1771.70 C552.67,1772.20 557.33,1772.85 562.00,1773.50 C566.67,1774.15 571.30,1775.08 576.00,1775.60 C580.70,1776.12 586.43,1776.65 590.20,1776.60 C593.97,1776.55 596.27,1776.05 598.60,1775.30 C600.93,1774.55 602.10,1773.33 604.20,1772.10 C606.30,1770.87 608.87,1769.53 611.20,1767.90 C613.53,1766.27 615.87,1764.15 618.20,1762.30 C620.53,1760.45 622.85,1758.55 625.20,1756.80 C627.55,1755.05 629.95,1753.22 632.30,1751.80 C634.65,1750.38 636.97,1749.12 639.30,1748.30 C641.63,1747.48 645.13,1747.13 646.30,1746.90 L646.30,1810.70 C645.13,1810.47 641.63,1810.12 639.30,1809.30 C636.97,1808.48 634.65,1807.22 632.30,1805.80 C629.95,1804.38 627.55,1802.55 625.20,1800.80 C622.85,1799.05 620.53,1797.15 618.20,1795.30 C615.87,1793.45 613.53,1791.33 611.20,1789.70 C608.87,1788.07 606.30,1786.73 604.20,1785.50 C602.10,1784.27 600.93,1783.05 598.60,1782.30 C596.27,1781.55 593.97,1781.05 590.20,1781.00 C586.43,1780.95 580.70,1781.48 576.00,1782.00 C571.30,1782.52 566.67,1783.45 562.00,1784.10 C557.33,1784.75 552.67,1785.40 548.00,1785.90 C543.33,1786.40 538.67,1787.03 534.00,1787.10 C529.33,1787.17 524.67,1786.63 520.00,1786.30 C515.33,1785.97 510.67,1785.67 506.00,1785.10 C501.33,1784.53 496.67,1783.65 492.00,1782.90 C487.33,1782.15 481.67,1781.13 478.00,1780.60 C474.33,1780.07 472.67,1779.92 470.00,1779.70 C467.33,1779.48 467.00,1779.38 462.00,1779.30 C457.00,1779.22 449.50,1779.20 440.00,1779.20 C430.50,1779.20 413.00,1779.20 405.00,1779.30 C397.00,1779.40 396.50,1779.62 392.00,1779.80 C387.50,1779.98 383.00,1780.27 378.00,1780.40 C373.00,1780.53 367.00,1780.62 362.00,1780.60 C357.00,1780.58 352.50,1780.45 348.00,1780.30 C343.50,1780.15 339.67,1779.88 335.00,1779.70 C330.33,1779.53 334.17,1779.33 320.00,1779.25 C305.83,1779.17 270.83,1779.20 250.00,1779.20 C229.17,1779.20 205.83,1779.18 195.00,1779.25 C184.17,1779.32 188.17,1779.42 185.00,1779.60 C181.83,1779.77 178.83,1780.10 176.00,1780.30 C173.17,1780.50 170.67,1780.72 168.00,1780.80 C165.33,1780.88 161.33,1780.80 160.00,1780.80 Z" fill="#cc0020"/>
<line x1="645.3" y1="1394.0" x2="645.3" y2="1454.8000000000002" stroke="#000" stroke-width="1.5" stroke-dasharray="3.5 3"/>
<line x1="645.3" y1="1490.8999999999999" x2="645.3" y2="1551.3" stroke="#000" stroke-width="1.5" stroke-dasharray="3.5 3"/>
<line x1="645.3" y1="1748.8999999999999" x2="645.3" y2="1808.7" stroke="#000" stroke-width="1.5" stroke-dasharray="3.5 3"/>
<line x1="633.3" y1="1656.5" x2="633.3" y2="1713" stroke="#000" stroke-width="3" stroke-dasharray="9 4.5"/>
<line x1="468.4" y1="1675" x2="468.4" y2="1690" stroke="#bbb" stroke-width="1.2" stroke-dasharray="3 2"/>
<line x1="645.8" y1="1652" x2="645.8" y2="1712" stroke="#ccc" stroke-width="1.2" stroke-dasharray="3 2"/>
<line x1="160" y1="1359.8" x2="160" y2="1842.5" stroke="#000" stroke-width="3.2"/>
<line x1="146.5" y1="1472.5" x2="160" y2="1472.5" stroke="#000" stroke-width="3.2"/>
<line x1="146.5" y1="1730.7" x2="160" y2="1730.7" stroke="#000" stroke-width="3.2"/>
<line x1="158.4" y1="1841.5" x2="648.1" y2="1841.5" stroke="#000" stroke-width="3.2"/>
<line x1="160" y1="1841.5" x2="160" y2="1852.5" stroke="#000" stroke-width="3.2"/>
<line x1="257.3" y1="1841.5" x2="257.3" y2="1852.5" stroke="#000" stroke-width="3.2"/>
<line x1="354.6" y1="1841.5" x2="354.6" y2="1852.5" stroke="#000" stroke-width="3.2"/>
<line x1="451.9" y1="1841.5" x2="451.9" y2="1852.5" stroke="#000" stroke-width="3.2"/>
<line x1="549.2" y1="1841.5" x2="549.2" y2="1852.5" stroke="#000" stroke-width="3.2"/>
<line x1="646.5" y1="1841.5" x2="646.5" y2="1852.5" stroke="#000" stroke-width="3.2"/>
<text x="72.08" y="1482.40" font-size="28" font-weight="normal" fill="#333333" textLength="58.57" lengthAdjust="spacingAndGlyphs" xml:space="preserve">8AM</text>
<text x="56.89" y="1738.40" font-size="28" font-weight="normal" fill="#333333" textLength="73.73" lengthAdjust="spacingAndGlyphs" xml:space="preserve">≥9AM</text>
<text x="151.61" y="1898.80" font-size="26.6" font-weight="normal" fill="#333333" textLength="14.79" lengthAdjust="spacingAndGlyphs" xml:space="preserve">0</text>
<text x="242.36" y="1898.80" font-size="26.6" font-weight="normal" fill="#333333" textLength="29.59" lengthAdjust="spacingAndGlyphs" xml:space="preserve">20</text>
<text x="340.02" y="1898.80" font-size="26.6" font-weight="normal" fill="#333333" textLength="29.59" lengthAdjust="spacingAndGlyphs" xml:space="preserve">40</text>
<text x="436.95" y="1898.80" font-size="26.6" font-weight="normal" fill="#333333" textLength="29.59" lengthAdjust="spacingAndGlyphs" xml:space="preserve">60</text>
<text x="534.36" y="1898.80" font-size="26.6" font-weight="normal" fill="#333333" textLength="29.59" lengthAdjust="spacingAndGlyphs" xml:space="preserve">80</text>
<text x="623.32" y="1898.80" font-size="26.6" font-weight="normal" fill="#333333" textLength="44.38" lengthAdjust="spacingAndGlyphs" xml:space="preserve">100</text>
<text x="151.94" y="1935.30" font-size="29.4" font-weight="normal" fill="#333333" textLength="498.45" lengthAdjust="spacingAndGlyphs" xml:space="preserve">Alarm-driven waking (% of schooldays)</text>
<text transform="translate(46.30,1702.00) rotate(-90)" x="0" y="0" font-size="30.5" fill="#333333" textLength="198.99" lengthAdjust="spacingAndGlyphs">Schoolday start</text>
<text x="770.69" y="1377.00" font-size="41" font-weight="bold" fill="#000" textLength="24.70" lengthAdjust="spacingAndGlyphs" xml:space="preserve">F</text>
<line x1="833" y1="1357" x2="833" y2="1842" stroke="#333333" stroke-width="3"/>
<line x1="996" y1="1357" x2="996" y2="1838" stroke="#333333" stroke-width="4" stroke-dasharray="13.7 9.45" stroke-linecap="round"/>
<line x1="995.4" y1="1366.40" x2="1266.8" y2="1366.40" stroke="#d02026" stroke-width="8.8"/>
<circle cx="1266.8" cy="1366.40" r="6.3" fill="#d02026"/>
<line x1="995.4" y1="1383.53" x2="1149.3" y2="1383.53" stroke="#d02026" stroke-width="8.8"/>
<circle cx="1149.3" cy="1383.53" r="6.3" fill="#d02026"/>
<line x1="995.4" y1="1400.67" x2="1135.1" y2="1400.67" stroke="#d02026" stroke-width="8.8"/>
<circle cx="1135.1" cy="1400.67" r="6.3" fill="#d02026"/>
<line x1="995.4" y1="1417.80" x2="1133.1" y2="1417.80" stroke="#d02026" stroke-width="8.8"/>
<circle cx="1133.1" cy="1417.80" r="6.3" fill="#d02026"/>
<line x1="995.4" y1="1434.93" x2="1124" y2="1434.93" stroke="#d02026" stroke-width="8.8"/>
<circle cx="1124" cy="1434.93" r="6.3" fill="#d02026"/>
<line x1="995.4" y1="1452.07" x2="1120" y2="1452.07" stroke="#d02026" stroke-width="8.8"/>
<circle cx="1120" cy="1452.07" r="6.3" fill="#d02026"/>
<line x1="995.4" y1="1469.20" x2="1116.5" y2="1469.20" stroke="#d02026" stroke-width="8.8"/>
<circle cx="1116.5" cy="1469.20" r="6.3" fill="#d02026"/>
<line x1="995.4" y1="1486.33" x2="1110.5" y2="1486.33" stroke="#d02026" stroke-width="8.8"/>
<circle cx="1110.5" cy="1486.33" r="6.3" fill="#d02026"/>
<line x1="995.4" y1="1503.47" x2="1108" y2="1503.47" stroke="#d02026" stroke-width="8.8"/>
<circle cx="1108" cy="1503.47" r="6.3" fill="#d02026"/>
<line x1="995.4" y1="1520.60" x2="1103.5" y2="1520.60" stroke="#d02026" stroke-width="8.8"/>
<circle cx="1103.5" cy="1520.60" r="6.3" fill="#d02026"/>
<line x1="995.4" y1="1537.73" x2="1091.5" y2="1537.73" stroke="#d02026" stroke-width="8.8"/>
<circle cx="1091.5" cy="1537.73" r="6.3" fill="#d02026"/>
<line x1="995.4" y1="1554.87" x2="1083" y2="1554.87" stroke="#d02026" stroke-width="8.8"/>
<circle cx="1083" cy="1554.87" r="6.3" fill="#d02026"/>
<line x1="995.4" y1="1572.00" x2="1065" y2="1572.00" stroke="#d02026" stroke-width="8.8"/>
<circle cx="1065" cy="1572.00" r="6.3" fill="#d02026"/>
<line x1="995.4" y1="1589.13" x2="1065" y2="1589.13" stroke="#d02026" stroke-width="8.8"/>
<circle cx="1065" cy="1589.13" r="6.3" fill="#d02026"/>
<line x1="995.4" y1="1606.27" x2="1057.5" y2="1606.27" stroke="#d02026" stroke-width="8.8"/>
<circle cx="1057.5" cy="1606.27" r="6.3" fill="#d02026"/>
<line x1="995.4" y1="1623.40" x2="1056" y2="1623.40" stroke="#d02026" stroke-width="8.8"/>
<circle cx="1056" cy="1623.40" r="6.3" fill="#d02026"/>
<line x1="995.4" y1="1640.53" x2="1055.5" y2="1640.53" stroke="#d02026" stroke-width="8.8"/>
<circle cx="1055.5" cy="1640.53" r="6.3" fill="#d02026"/>
<line x1="995.4" y1="1657.67" x2="1051" y2="1657.67" stroke="#d02026" stroke-width="8.8"/>
<circle cx="1051" cy="1657.67" r="6.3" fill="#d02026"/>
<line x1="995.4" y1="1674.80" x2="1040" y2="1674.80" stroke="#d02026" stroke-width="8.8"/>
<circle cx="1040" cy="1674.80" r="6.3" fill="#d02026"/>
<line x1="995.4" y1="1691.93" x2="1037.5" y2="1691.93" stroke="#d02026" stroke-width="8.8"/>
<circle cx="1037.5" cy="1691.93" r="6.3" fill="#d02026"/>
<line x1="995.4" y1="1709.07" x2="1037.5" y2="1709.07" stroke="#d02026" stroke-width="8.8"/>
<circle cx="1037.5" cy="1709.07" r="6.3" fill="#d02026"/>
<line x1="995.4" y1="1726.20" x2="1030.5" y2="1726.20" stroke="#d02026" stroke-width="8.8"/>
<circle cx="1030.5" cy="1726.20" r="6.3" fill="#d02026"/>
<line x1="995.4" y1="1743.33" x2="1027.5" y2="1743.33" stroke="#d02026" stroke-width="8.8"/>
<circle cx="1027.5" cy="1743.33" r="6.3" fill="#d02026"/>
<line x1="995.4" y1="1760.47" x2="1013" y2="1760.47" stroke="#d02026" stroke-width="8.8"/>
<circle cx="1013" cy="1760.47" r="6.3" fill="#d02026"/>
<line x1="995.4" y1="1777.60" x2="1013" y2="1777.60" stroke="#d02026" stroke-width="8.8"/>
<circle cx="1013" cy="1777.60" r="6.3" fill="#d02026"/>
<line x1="995.4" y1="1794.73" x2="1006.5" y2="1794.73" stroke="#d02026" stroke-width="8.8"/>
<circle cx="1006.5" cy="1794.73" r="6.3" fill="#d02026"/>
<circle cx="993" cy="1811.87" r="6.3" fill="#d02026"/>
<line x1="995.4" y1="1829.00" x2="946.5" y2="1829.00" stroke="#d02026" stroke-width="8.8"/>
<circle cx="946.5" cy="1829.00" r="6.3" fill="#d02026"/>
<line x1="831.5" y1="1841.5" x2="1323.5" y2="1841.5" stroke="#333333" stroke-width="3"/>
<line x1="833" y1="1841.5" x2="833" y2="1852.5" stroke="#333333" stroke-width="3"/>
<line x1="914.5" y1="1841.5" x2="914.5" y2="1852.5" stroke="#333333" stroke-width="3"/>
<line x1="996" y1="1841.5" x2="996" y2="1852.5" stroke="#333333" stroke-width="3"/>
<line x1="1077.5" y1="1841.5" x2="1077.5" y2="1852.5" stroke="#333333" stroke-width="3"/>
<line x1="1159" y1="1841.5" x2="1159" y2="1852.5" stroke="#333333" stroke-width="3"/>
<line x1="1240.5" y1="1841.5" x2="1240.5" y2="1852.5" stroke="#333333" stroke-width="3"/>
<line x1="1322" y1="1841.5" x2="1322" y2="1852.5" stroke="#333333" stroke-width="3"/>
<text x="820.57" y="1894.00" font-size="26.8" font-weight="normal" fill="#333333" textLength="23.83" lengthAdjust="spacingAndGlyphs" xml:space="preserve">-2</text>
<text x="902.65" y="1894.00" font-size="26.8" font-weight="normal" fill="#333333" textLength="23.83" lengthAdjust="spacingAndGlyphs" xml:space="preserve">-1</text>
<text x="988.05" y="1894.00" font-size="26.8" font-weight="normal" fill="#333333" textLength="14.90" lengthAdjust="spacingAndGlyphs" xml:space="preserve">0</text>
<text x="1069.69" y="1894.00" font-size="26.8" font-weight="normal" fill="#333333" textLength="14.90" lengthAdjust="spacingAndGlyphs" xml:space="preserve">1</text>
<text x="1151.55" y="1894.00" font-size="26.8" font-weight="normal" fill="#333333" textLength="14.90" lengthAdjust="spacingAndGlyphs" xml:space="preserve">2</text>
<text x="1233.13" y="1894.00" font-size="26.8" font-weight="normal" fill="#333333" textLength="14.90" lengthAdjust="spacingAndGlyphs" xml:space="preserve">3</text>
<text x="1313.83" y="1894.00" font-size="26.8" font-weight="normal" fill="#333333" textLength="14.90" lengthAdjust="spacingAndGlyphs" xml:space="preserve">4</text>
<text x="887.59" y="1932.10" font-size="29.5" font-weight="normal" fill="#333333" textLength="378.81" lengthAdjust="spacingAndGlyphs" xml:space="preserve">Sleep gain on &gt;9AM-days (h)</text>
<text transform="translate(807.30,1733.28) rotate(-90)" x="0" y="0" font-size="31" fill="#333333" textLength="241.13" lengthAdjust="spacingAndGlyphs">Individual students</text>
</svg></body></html>
